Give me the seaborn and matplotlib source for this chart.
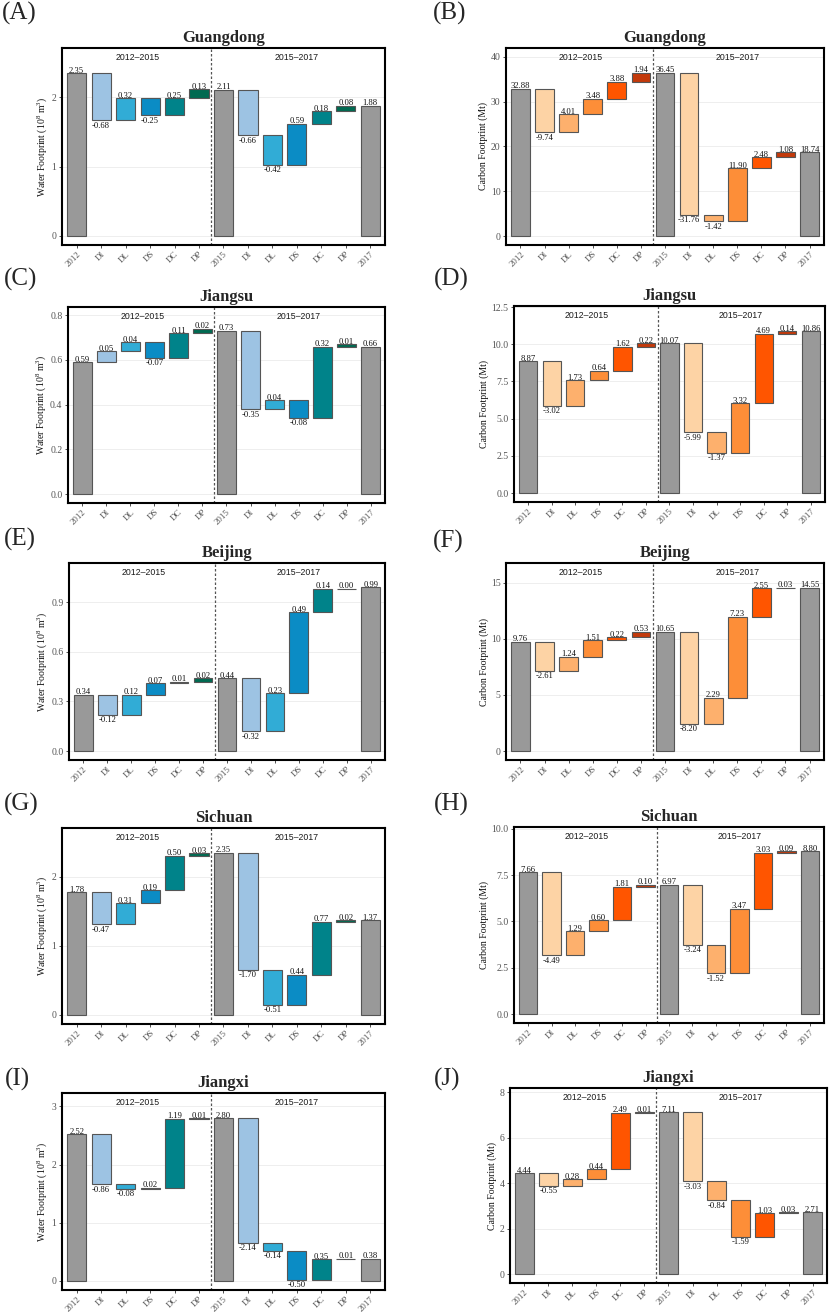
import matplotlib
matplotlib.use("Agg")
import numpy as np
import pandas as pd
import matplotlib.pyplot as plt
import matplotlib.transforms as mtransforms
import seaborn as sns

# ---- data ----
steps = ["2012", "DI", "DL", "DS", "DC", "DP", "2015",
         "DI", "DL", "DS", "DC", "DP", "2017"]
provinces = ["Guangdong", "Jiangsu", "Beijing", "Sichuan", "Jiangxi"]
periods = ["2012\u20132015", "2015\u20132017"]

# water footprint (10^8 m3)
water_2012 = [2.35, 0.59, 0.34, 1.78, 2.52]
water_2015 = [2.11, 0.73, 0.44, 2.35, 2.80]
water_2017 = [1.88, 0.66, 0.99, 1.37, 0.38]
water_d1 = [[-0.68, 0.32, -0.25, 0.25, 0.13],
            [0.05, 0.04, -0.07, 0.11, 0.02],
            [-0.12, 0.12, 0.07, 0.01, 0.02],
            [-0.47, 0.31, 0.19, 0.50, 0.03],
            [-0.86, -0.08, 0.02, 1.19, 0.01]]
water_d2 = [[-0.66, -0.42, 0.59, 0.18, 0.08],
            [-0.35, 0.04, -0.08, 0.32, 0.01],
            [-0.32, 0.23, 0.49, 0.14, 0.00],
            [-1.70, -0.51, 0.44, 0.77, 0.02],
            [-2.14, -0.14, -0.50, 0.35, 0.01]]

# carbon footprint (Mt)
carbon_2012 = [32.88, 8.87, 9.76, 7.66, 4.44]
carbon_2015 = [36.45, 10.07, 10.65, 6.97, 7.11]
carbon_2017 = [18.74, 10.86, 14.55, 8.80, 2.71]
carbon_d1 = [[-9.74, 4.01, 3.48, 3.88, 1.94],
             [-3.02, 1.73, 0.64, 1.62, 0.22],
             [-2.61, 1.24, 1.51, 0.22, 0.53],
             [-4.49, 1.29, 0.60, 1.81, 0.10],
             [-0.55, 0.28, 0.44, 2.49, 0.01]]
carbon_d2 = [[-31.76, -1.42, 11.90, 2.48, 1.08],
             [-5.99, -1.37, 3.32, 4.69, 0.14],
             [-8.20, 2.29, 7.23, 2.55, 0.03],
             [-3.24, -1.52, 3.47, 3.03, 0.09],
             [-3.03, -0.84, -1.59, 1.03, 0.03]]

water_colors = ["#9dc3e3", "#31acd6", "#0b8cc5", "#00838a", "#006a51"]
carbon_colors = ["#fdd3a5", "#fdb06d", "#fd8e38", "#ff5500", "#c3390a"]
total_color = "#999999"


def waterfall_frame(v0, d1, v1, d2, v2):
    rows = []
    pos = 0
    for start, deltas in ((v0, d1), (v1, d2)):
        rows.append((pos, 0.0, start, start, "total", -1))
        pos += 1
        level = start
        for k, d in enumerate(deltas):
            lo, hi = min(level, level + d), max(level, level + d)
            rows.append((pos, lo, hi - lo, d, "step", k))
            level += d
            pos += 1
    rows.append((pos, 0.0, v2, v2, "total", -1))
    return pd.DataFrame(rows, columns=["pos", "bottom", "height", "value", "kind", "k"])


# ---- figure ----
sns.set_style("white")
plt.rcParams["font.family"] = ["Liberation Serif", "DejaVu Serif"]
plt.rcParams["mathtext.fontset"] = "custom"
plt.rcParams["mathtext.rm"] = "Liberation Serif"

W, H = 837, 1312
fig = plt.figure(figsize=(W / 100, H / 100), dpi=100)


def px_rect(l, t, r, b):
    return [l / W, 1 - b / H, (r - l) / W, (b - t) / H]


water_rects = [(62, 48, 385, 245), (68, 307, 385, 503), (69, 563, 385, 760),
               (62, 828, 385, 1024), (62, 1093, 385, 1290)]
carbon_rects = [(506, 48, 824, 245), (514, 306, 825, 502), (506, 563, 824, 760),
                (514, 827, 824, 1023), (510, 1088, 827, 1283)]
water_tags = ["(A)", "(C)", "(E)", "(G)", "(I)"]
carbon_tags = ["(B)", "(D)", "(F)", "(H)", "(J)"]
water_tag_xy = [(2, 13), (4, 279), (4, 539), (4, 804), (5, 1079)]
carbon_tag_xy = [(433, 13), (434, 279), (433, 541), (434, 804), (434, 1079)]

water_ylim = [(-0.13, 2.71), (-0.04, 0.837), (-0.054, 1.136), (-0.135, 2.71), (-0.155, 3.23)]
water_ticks = [[0, 1, 2], [0, 0.2, 0.4, 0.6, 0.8], [0, 0.3, 0.6, 0.9], [0, 1, 2], [0, 1, 2, 3]]
water_fmt = ["{:.0f}", "{:.1f}", "{:.1f}", "{:.0f}", "{:.0f}"]
carbon_ylim = [(-2.0, 42.0), (-0.6, 12.57), (-0.8, 16.76), (-0.48, 10.09), (-0.39, 8.18)]
carbon_ticks = [[0, 10, 20, 30, 40], [0, 2.5, 5, 7.5, 10, 12.5], [0, 5, 10, 15],
                [0, 2.5, 5, 7.5, 10], [0, 2, 4, 6, 8]]
carbon_fmt = ["{:.0f}", "{:.1f}", "{:.0f}", "{:.1f}", "{:.0f}"]


def draw_panel(rect, df, colors, title, ylabel, ylim, ticks, fmt):
    ax = fig.add_axes(px_rect(*rect))
    sns.barplot(data=df, x="pos", y="height", bottom=df["bottom"].to_numpy(),
                width=0.78, errorbar=None, color=total_color, ax=ax)
    for patch, (_, row) in zip(ax.patches, df.iterrows()):
        fc = total_color if row["kind"] == "total" else colors[int(row["k"])]
        patch.set_facecolor(fc)
        patch.set_edgecolor("#555555")
        patch.set_linewidth(0.8)
    for _, row in df.iterrows():
        txt = "{:.2f}".format(row["value"])
        if row["value"] < 0:
            ax.annotate(txt, (row["pos"], row["bottom"]), xytext=(0, -1),
                        textcoords="offset points", ha="center", va="top",
                        fontsize=6.2, color="#111111")
        else:
            ax.annotate(txt, (row["pos"], row["bottom"] + row["height"]), xytext=(0, 0.3),
                        textcoords="offset points", ha="center", va="baseline",
                        fontsize=6.2, color="#111111")
    ax.axvline(5.5, color="#555555", lw=0.9, ls=(0, (2, 1.6)))
    trans = mtransforms.blended_transform_factory(ax.transData, ax.transAxes)
    for xc, lab in zip((2.5, 9.0), periods):
        ax.text(xc, 0.953, lab, transform=trans, ha="center", va="center",
                fontsize=6.3, family=["Liberation Sans", "DejaVu Sans"], color="#1a1a1a")
    ax.set_xlim(-0.6, 12.6)
    ax.set_ylim(*ylim)
    ax.set_yticks(ticks, [fmt.format(t) for t in ticks])
    ax.set_xticks(range(len(steps)))
    ax.set_xticklabels(steps, rotation=45, ha="right", va="top", rotation_mode="anchor")
    ax.yaxis.grid(True, color="#ebebeb", lw=0.6)
    ax.xaxis.grid(False)
    ax.set_axisbelow(True)
    for sp in ax.spines.values():
        sp.set_visible(True)
        sp.set_color("black")
        sp.set_linewidth(1.5)
    ax.tick_params(axis="both", length=2.5, width=0.6, color="#333333",
                   labelcolor="#555555", labelsize=7, pad=1.5, direction="out",
                   bottom=True, left=True)
    ax.tick_params(axis="x", labelsize=6.4, pad=1.0)
    ax.set_xlabel("")
    ax.set_ylabel(ylabel, fontsize=7, color="#111111", labelpad=1.5)
    ax.set_title(title, fontsize=12, fontweight="bold", pad=4)
    return ax


water_label = r"Water Footprint (10$\mathregular{^8}$ m$\mathregular{^3}$)"
carbon_label = "Carbon Footprint (Mt)"

for i, prov in enumerate(provinces):
    dfw = waterfall_frame(water_2012[i], water_d1[i], water_2015[i], water_d2[i], water_2017[i])
    draw_panel(water_rects[i], dfw, water_colors, prov, water_label,
               water_ylim[i], water_ticks[i], water_fmt[i])
    dfc = waterfall_frame(carbon_2012[i], carbon_d1[i], carbon_2015[i], carbon_d2[i], carbon_2017[i])
    draw_panel(carbon_rects[i], dfc, carbon_colors, prov, carbon_label,
               carbon_ylim[i], carbon_ticks[i], carbon_fmt[i])
    for tag, (tx, ty) in ((water_tags[i], water_tag_xy[i]), (carbon_tags[i], carbon_tag_xy[i])):
        fig.text(tx / W, 1 - ty / H, tag, ha="left", va="center", fontsize=18)

fig.savefig("out.png", dpi=100)
